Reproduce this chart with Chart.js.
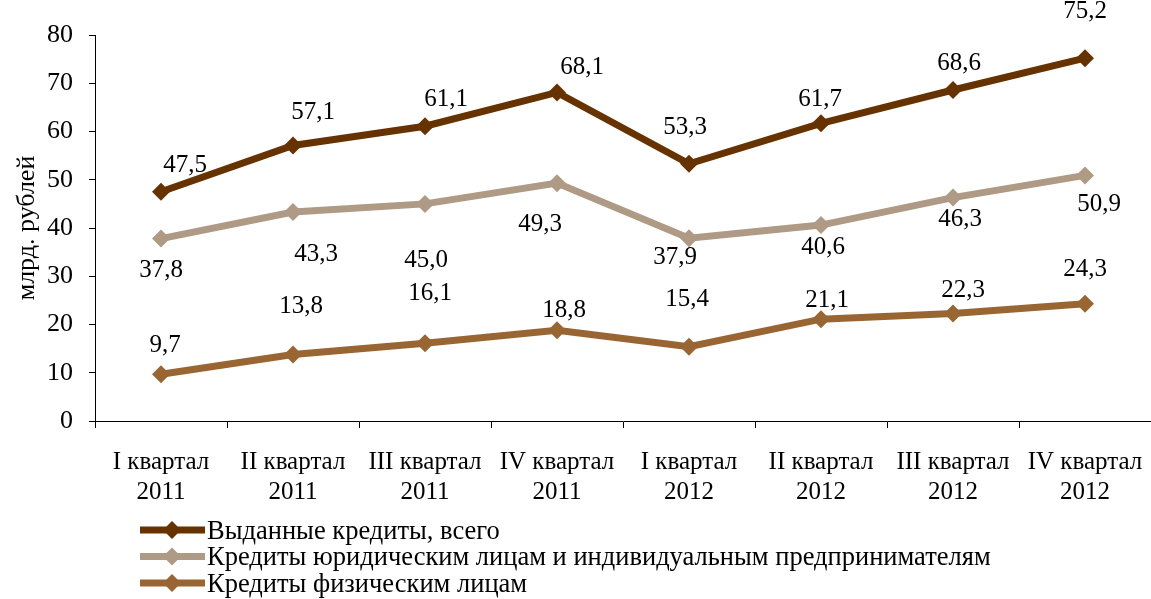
<!DOCTYPE html>
<html lang="ru">
<head>
    <meta charset="UTF-8">
    <title>Кредиты по кварталам</title>
    <style>
        body { margin: 0; background: #ffffff; overflow: hidden; }
        .chart-container { width: 1151px; height: 599px; }
    </style>
</head>
<body>
    <div class="chart-container">
        <canvas id="lineChart" width="1151" height="599"></canvas>
    </div>

    <script src="https://cdn.jsdelivr.net/npm/chart.js"></script>
    <script>
// data
const quarters = [
    ['I квартал', '2011'], ['II квартал', '2011'], ['III квартал', '2011'], ['IV квартал', '2011'],
    ['I квартал', '2012'], ['II квартал', '2012'], ['III квартал', '2012'], ['IV квартал', '2012']
];
const seriesNames = [
    'Выданные кредиты, всего',
    'Кредиты юридическим лицам и индивидуальным предпринимателям',
    'Кредиты физическим лицам'
];
const totalLoans = [47.5, 57.1, 61.1, 68.1, 53.3, 61.7, 68.6, 75.2];
const corporateLoans = [37.8, 43.3, 45.0, 49.3, 37.9, 40.6, 46.3, 50.9];
const retailLoans = [9.7, 13.8, 16.1, 18.8, 15.4, 21.1, 22.3, 24.3];
const yTicks = [0, 10, 20, 30, 40, 50, 60, 70, 80];

// layout: where each value label sits relative to its point [dx, dy]
const labelShift = [
    [[24, -26], [20, -33], [21, -27], [25, -25], [-4, -36], [-1, -24], [6, -27], [0, -47]],
    [[0, 32], [23, 42], [1, 57], [-17, 41], [-14, 19], [2, 22], [7, 22], [14, 29]],
    [[4, -29], [8, -48], [5, -50], [7, -20], [-2, -47], [6, -19], [10, -23], [0, -34]]
];

const colors = ['#663300', '#ae9a85', '#996633'];
const serif = '"Liberation Serif", "Times New Roman", serif';

// value labels drawn next to each point
const valueLabels = {
    id: 'valueLabels',
    afterDatasetsDraw(chart) {
        const ctx = chart.ctx;
        ctx.save();
        ctx.font = '25px ' + serif;
        ctx.fillStyle = '#000';
        ctx.textAlign = 'center';
        ctx.textBaseline = 'middle';
        chart.data.datasets.forEach((ds, i) => {
            chart.getDatasetMeta(i).data.forEach((pt, j) => {
                const txt = ds.data[j].toFixed(1).replace('.', ',');
                const s = labelShift[i][j];
                ctx.fillText(txt, pt.x + s[0], pt.y + s[1]);
            });
        });
        ctx.restore();
    }
};

// legend under the chart: line with diamond, then name
const bottomLegend = {
    id: 'bottomLegend',
    afterDraw(chart) {
        const ctx = chart.ctx;
        ctx.save();
        ctx.font = '26.5px ' + serif;
        ctx.textBaseline = 'middle';
        seriesNames.forEach((name, i) => {
            const y = 530 + i * 26.5;
            ctx.strokeStyle = colors[i];
            ctx.lineWidth = 7;
            ctx.beginPath();
            ctx.moveTo(140, y);
            ctx.lineTo(205, y);
            ctx.stroke();
            ctx.fillStyle = colors[i];
            ctx.beginPath();
            ctx.moveTo(172, y - 9);
            ctx.lineTo(181, y);
            ctx.lineTo(172, y + 9);
            ctx.lineTo(163, y);
            ctx.closePath();
            ctx.fill();
            ctx.fillStyle = '#000';
            ctx.fillText(name, 207, y + 2);
        });
        ctx.restore();
    }
};

function makeDataset(label, data, color) {
    return {
        label: label,
        data: data,
        borderColor: color,
        backgroundColor: color,
        borderWidth: 7,
        pointStyle: 'rectRot',
        pointRadius: 9,
        pointHoverRadius: 9,
        pointBorderWidth: 0,
        tension: 0,
        clip: false
    };
}

const ctx = document.getElementById('lineChart').getContext('2d');
new Chart(ctx, {
    type: 'line',
    data: {
        labels: quarters,
        datasets: [
            makeDataset(seriesNames[0], totalLoans, colors[0]),
            makeDataset(seriesNames[1], corporateLoans, colors[1]),
            makeDataset(seriesNames[2], retailLoans, colors[2])
        ]
    },
    options: {
        responsive: false,
        animation: false,
        devicePixelRatio: 1,
        layout: { autoPadding: false, padding: { top: 35, right: -3, bottom: 0, left: 0 } },
        plugins: {
            legend: { display: false },
            tooltip: { enabled: false }
        },
        scales: {
            x: {
                offset: true,
                grid: {
                    offset: true,
                    drawOnChartArea: false,
                    color: '#000',
                    tickLength: 7
                },
                border: { color: '#000', width: 1 },
                ticks: {
                    color: '#000',
                    font: { family: serif, size: 25 },
                    maxRotation: 0,
                    autoSkip: false,
                    padding: 19
                },
                afterFit(scale) {
                    scale.height = 178;
                    scale.paddingLeft = 0;
                    scale.paddingRight = 0;
                }
            },
            y: {
                min: 0,
                max: 80,
                afterBuildTicks(scale) { scale.ticks = yTicks.map(v => ({ value: v })); },
                grid: {
                    drawOnChartArea: false,
                    color: '#000',
                    tickLength: 6
                },
                border: { color: '#000', width: 1 },
                ticks: {
                    color: '#000',
                    font: { family: serif, size: 26 },
                    padding: 16
                },
                title: {
                    display: true,
                    text: 'млрд. рублей',
                    color: '#000',
                    font: { family: serif, size: 26 },
                    padding: { top: 12, bottom: 0 }
                },
                afterFit(scale) { scale.width = 95; }
            }
        }
    },
    plugins: [valueLabels, bottomLegend]
});
    </script>
</body>
</html>
